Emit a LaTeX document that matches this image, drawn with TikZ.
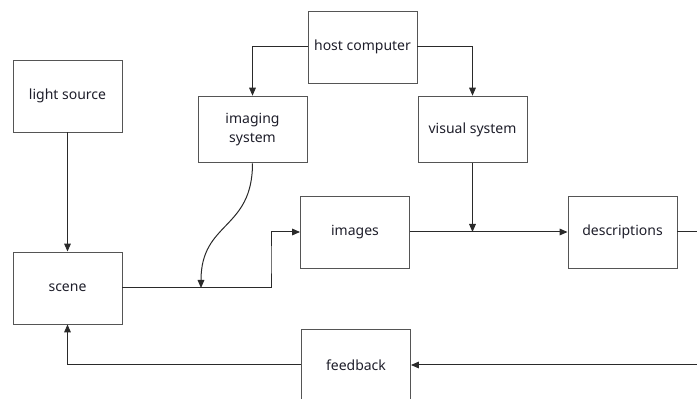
\documentclass[tikz,border=0pt]{standalone}
\usepackage{fontspec}
\setmainfont{Noto Sans}
\usetikzlibrary{arrows.meta}
\definecolor{boxline}{HTML}{555555}
\definecolor{conn}{HTML}{2A2A2A}
\definecolor{txt}{HTML}{1E1E2A}
\begin{document}
\begin{tikzpicture}[x=0.75pt,y=-0.75pt,
  blk/.style={draw=boxline,line width=0.7pt,inner sep=0pt,minimum width=81.75pt,minimum height=54pt,align=center,text=txt,font=\fontsize{10.5}{14}\selectfont},
  blks/.style={blk,minimum height=50pt},
  conn/.style={draw=conn,line width=0.75pt},
  arr/.style={conn,-{Triangle[length=6pt,width=5pt]}}]
\useasboundingbox (0,0) rectangle (697,399);
\node[blk] (light) at (67.5,96) {light source};
\node[blk] (scene) at (67.5,288) {scene};
\node[blk] (host) at (362.5,47) {host computer};
\node[blks] (imaging) at (252.5,129.5) {imaging\\system};
\node[blks] (visual) at (472.5,129.5) {visual system};
\node[blk] (images) at (355,232) {images};
\node[blk] (desc) at (622.5,232) {descriptions};
\node[blk] (feedback) at (356,365) {feedback};
\coordinate (kink) at (271,260);
\coordinate (m1) at (201,288);
\coordinate (outR) at (697,232);
\coordinate (inR) at (697,365);
\draw[arr] (light.south) -- (scene.north);
\draw[arr] (host.west) -| (imaging.north);
\draw[arr] (host.east) -| (visual.north);
\draw[arr] (scene.east) -| (kink) |- (images.west);
\draw[arr] (imaging.south) .. controls +(0,67) and +(0,-67) .. (m1);
\draw[arr] (images.east) -- (desc.west);
\draw[arr] (visual.south) -- (visual.south |- images.east);
\draw[conn] (desc.east) -- (outR);
\draw[arr] (inR) -- (feedback.east);
\draw[arr] (feedback.west) -| (scene.south);
\end{tikzpicture}
\end{document}
